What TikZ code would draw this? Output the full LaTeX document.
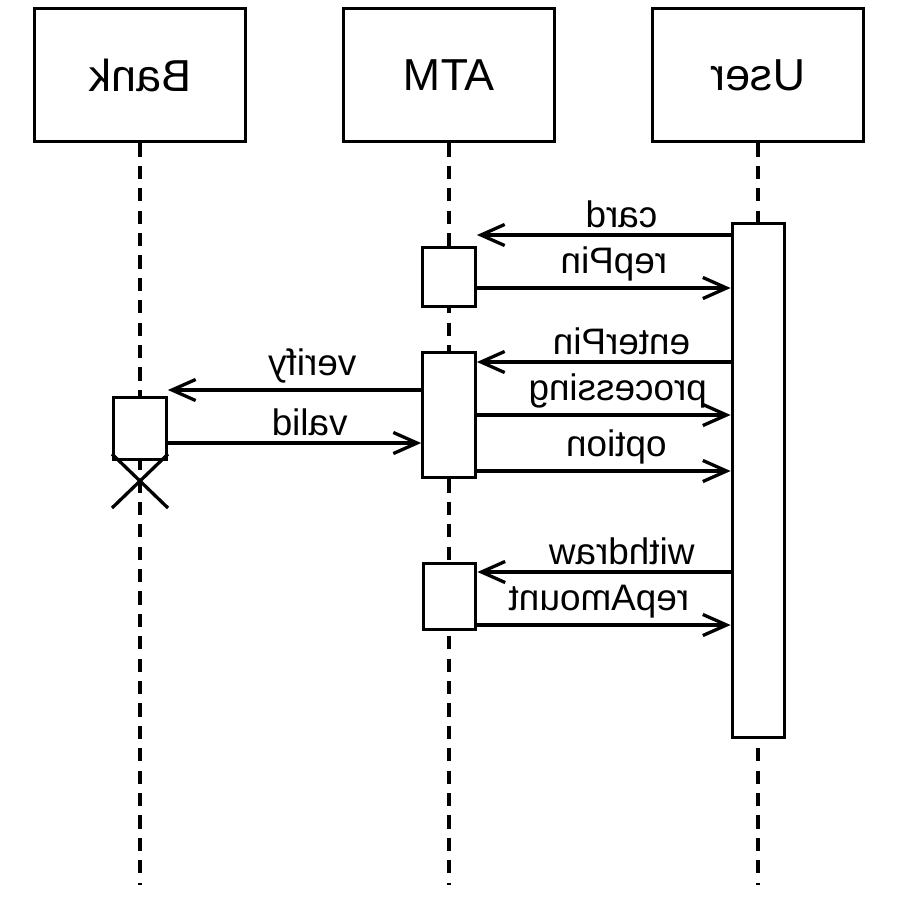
\documentclass[tikz,border=0pt]{standalone}
\usepackage{fontspec}
\setmainfont{Liberation Sans}
\usepackage{graphicx}
\usetikzlibrary{arrows.meta}

\begin{document}
\begin{tikzpicture}[x=0.01333cm, y=-0.01333cm,
  actor/.style={draw, line width=1.25pt, minimum width=2.82cm, minimum height=1.78cm, font=\fontsize{17}{19}\selectfont},
  act/.style={draw, fill=white, line width=1.25pt, minimum width=0.70cm, inner sep=0pt},
  life/.style={line width=1.3pt, dash pattern=on 5pt off 3.5pt},
  msg/.style={line width=1.25pt, -{Straight Barb[length=9pt, width=8pt, line width=1.25pt]}},
  lbl/.style={above, inner sep=2pt, font=\fontsize{14}{16}\selectfont}]
\useasboundingbox (0,0) rectangle (900,900);

% actors
\node[actor] (bank) at (140,75) {\reflectbox{Bank}};
\node[actor] (atm) at (449,75) {\reflectbox{ATM}};
\node[actor] (user) at (758,75) {\reflectbox{User}};

% lifelines
\coordinate (bankend) at (140,885);
\coordinate (atmend) at (449,885);
\coordinate (userend) at (758,885);
\draw[life] (bank.south) -- (bankend);
\draw[life] (atm.south) -- (atmend);
\draw[life] (user.south) -- (userend);

% activations
\node[act, minimum height=6.86cm] (useract) at (758.5,480.5) {};
\node[act, minimum height=0.78cm] (atm1) at (449,277) {};
\node[act, minimum height=1.66cm] (atm2) at (449,415) {};
\node[act, minimum height=0.88cm] (atm3) at (449.5,596.5) {};
\node[act, minimum height=0.82cm] (bankact) at (140,428.5) {};

% destroy
\draw[line width=1.25pt] (112,454) -- (168,508);
\draw[line width=1.25pt] (168,454) -- (112,508);

% messages
\draw[msg] (useract.west |- 0,235) -- node[lbl, pos=0.43] {\reflectbox{card}} (atm1.east |- 0,235);
\draw[msg] (atm1.east |- 0,288) -- node[lbl, pos=0.54] {\reflectbox{repPin}} (useract.west |- 0,288);
\draw[msg] (useract.west |- 0,362) -- node[lbl, pos=0.43] {\reflectbox{enterPin}} (atm2.east |- 0,362);
\draw[msg] (atm2.west |- 0,390) -- node[lbl, pos=0.43] {\reflectbox{verify}} (bankact.east |- 0,390);
\draw[msg] (atm2.east |- 0,415) -- node[lbl, pos=0.555] {\reflectbox{processing}} (useract.west |- 0,415);
\draw[msg] (bankact.east |- 0,443) -- node[lbl, pos=0.56] {\reflectbox{valid}} (atm2.west |- 0,443);
\draw[msg] (atm2.east |- 0,471) -- node[lbl, pos=0.55] {\reflectbox{option}} (useract.west |- 0,471);
\draw[msg] (useract.west |- 0,572) -- node[lbl, pos=0.43] {\reflectbox{withdraw}} (atm3.east |- 0,572);
\draw[msg] (atm3.east |- 0,625) -- node[lbl, pos=0.48] {\reflectbox{repAmount}} (useract.west |- 0,625);
\end{tikzpicture}
\end{document}
